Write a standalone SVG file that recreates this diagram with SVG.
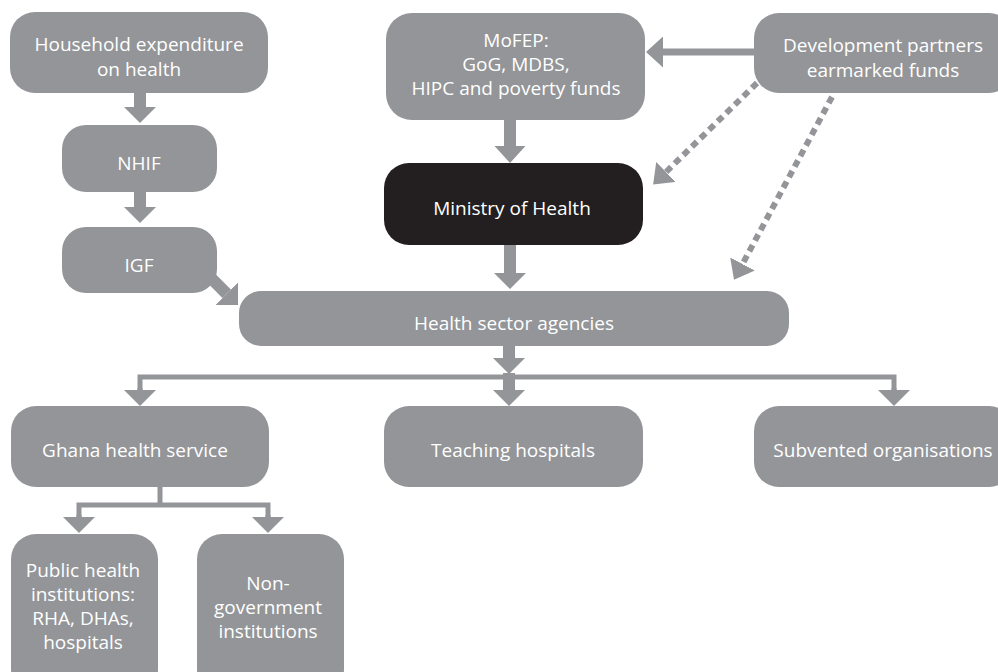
<svg xmlns="http://www.w3.org/2000/svg" width="998" height="672" viewBox="0 0 998 672">
<style>
.box{fill:#939598}
.dark{fill:#231f20}
text{font-family:"Open Sans","Liberation Sans",sans-serif;font-size:19px;fill:#ffffff;text-anchor:middle}
.c{stroke:#939598;fill:none}
.w12{stroke-width:12}
.w7{stroke-width:7}
.w5{stroke-width:5}
.dash{stroke-width:6;stroke-dasharray:7 5}
</style>
<defs>
<marker id="head" markerUnits="userSpaceOnUse" viewBox="0 0 16 32" refX="0" refY="16" markerWidth="16" markerHeight="32" orient="auto">
<path d="M0,0 L16,16 L0,32 Z" fill="#939598"/>
</marker>
<marker id="head17" markerUnits="userSpaceOnUse" viewBox="0 0 17 31" refX="0" refY="15.5" markerWidth="17" markerHeight="31" orient="auto">
<path d="M0,0 L17,15.5 L0,31 Z" fill="#939598"/>
</marker>
<marker id="dhead" markerUnits="userSpaceOnUse" viewBox="0 0 18 28" refX="0" refY="14" markerWidth="18" markerHeight="28" orient="auto">
<path d="M0,0 L18,14 L0,28 Z" fill="#939598"/>
</marker>
</defs>

<g id="connectors">
<line class="c w12" x1="140" y1="93" x2="140" y2="107" marker-end="url(#head)"/>
<line class="c w12" x1="140" y1="192" x2="140" y2="207" marker-end="url(#head)"/>
<line class="c w12" x1="205" y1="272" x2="226.7" y2="293.7" marker-end="url(#head)"/>
<line class="c w12" x1="510" y1="120" x2="510" y2="146" marker-end="url(#head17)"/>
<line class="c w12" x1="510" y1="245" x2="510" y2="273" marker-end="url(#head)"/>
<line class="c w7" x1="756" y1="52" x2="663" y2="52" marker-end="url(#head17)"/>
<line class="c dash" x1="757" y1="83" x2="666" y2="172" marker-end="url(#dhead)"/>
<line class="c dash" x1="832" y1="97" x2="742.5" y2="264" marker-end="url(#dhead)"/>
<line class="c w12" x1="509" y1="346" x2="509" y2="358" marker-end="url(#head)"/>
<polyline class="c w5" points="140,390 140,377 894,377 894,390"/>
<line class="c w5" x1="140" y1="388" x2="140" y2="390" marker-end="url(#head)"/>
<line class="c w5" x1="894" y1="388" x2="894" y2="390" marker-end="url(#head)"/>
<line class="c w12" x1="509" y1="373" x2="509" y2="390" marker-end="url(#head)"/>
<line class="c w5" x1="160" y1="487" x2="160" y2="505"/>
<polyline class="c w5" points="79,517 79,505 268,505 268,517"/>
<line class="c w5" x1="79" y1="515" x2="79" y2="517" marker-end="url(#head)"/>
<line class="c w5" x1="268" y1="515" x2="268" y2="517" marker-end="url(#head)"/>
</g>

<g id="household">
<rect class="box" x="10" y="12" width="258" height="81" rx="25"/>
<text x="139" y="51">Household expenditure</text>
<text x="139" y="76">on health</text>
</g>
<g id="nhif">
<rect class="box" x="62" y="125" width="155" height="67" rx="24"/>
<text x="139" y="170">NHIF</text>
</g>
<g id="igf">
<rect class="box" x="62" y="227" width="155" height="66" rx="24"/>
<text x="139" y="272">IGF</text>
</g>
<g id="mofep">
<rect class="box" x="386" y="13" width="259" height="107" rx="26"/>
<text x="516" y="47">MoFEP:</text>
<text x="516" y="71">GoG, MDBS,</text>
<text x="516" y="95">HIPC and poverty funds</text>
</g>
<g id="dev-partners">
<rect class="box" x="754" y="13" width="260" height="80" rx="25"/>
<text x="883" y="52">Development partners</text>
<text x="883" y="77">earmarked funds</text>
</g>
<g id="moh">
<rect class="dark" x="384" y="163" width="259" height="82" rx="25"/>
<text x="512" y="215">Ministry of Health</text>
</g>
<g id="health-sector">
<rect class="box" x="239" y="291" width="550" height="55" rx="22"/>
<text x="514" y="330">Health sector agencies</text>
</g>
<g id="ghana-health">
<rect class="box" x="11" y="406" width="258" height="81" rx="25"/>
<text x="135" y="457">Ghana health service</text>
</g>
<g id="teaching">
<rect class="box" x="384" y="406" width="259" height="81" rx="25"/>
<text x="513" y="457">Teaching hospitals</text>
</g>
<g id="subvented">
<rect class="box" x="754" y="406" width="260" height="81" rx="25"/>
<text x="883" y="457">Subvented organisations</text>
</g>
<g id="public-health">
<rect class="box" x="11" y="534" width="147" height="160" rx="25"/>
<text x="83" y="577">Public health</text>
<text x="83" y="601">institutions:</text>
<text x="83" y="625">RHA, DHAs,</text>
<text x="83" y="649">hospitals</text>
</g>
<g id="non-gov">
<rect class="box" x="197" y="534" width="147" height="160" rx="25"/>
<text x="268" y="590">Non-</text>
<text x="268" y="614">government</text>
<text x="268" y="638">institutions</text>
</g>
</svg>
